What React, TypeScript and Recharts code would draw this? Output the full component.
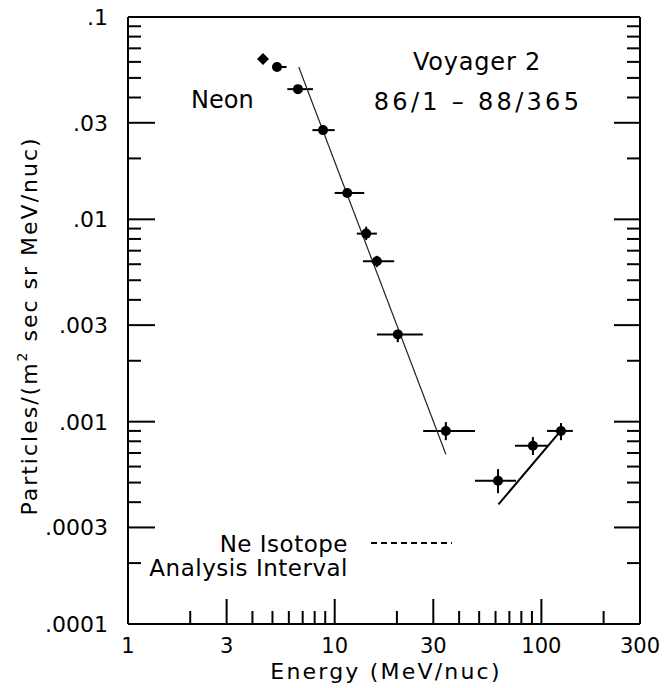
import React from 'react';
import { ComposedChart, XAxis, YAxis, Scatter, ErrorBar } from 'recharts';

// Neon spectrum, Voyager 2, 86/1 - 88/365
const energy = [4.5, 5.26, 6.64, 8.78, 11.5, 14.2, 16.0, 20.2, 34.5, 61.7, 91.0, 124.4];
const energyLow = [4.5, 5.0, 5.9, 7.8, 10.0, 12.8, 13.7, 16.0, 26.8, 47.7, 74.5, 106.4];
const energyHigh = [4.5, 5.85, 7.85, 10.0, 13.9, 16.0, 19.4, 26.7, 47.7, 75.4, 107.6, 142];
const flux = [0.062, 0.0566, 0.044, 0.0276, 0.0135, 0.0085, 0.0062, 0.0027, 0.0009, 0.00051, 0.00076, 0.0009];
const fluxLow = [0.062, 0.0566, 0.044, 0.0276, 0.0135, 0.0079, 0.0058, 0.00247, 0.00081, 0.000443, 0.000684, 0.00081];
const fluxHigh = [0.062, 0.0566, 0.044, 0.0276, 0.0135, 0.0092, 0.0066, 0.00284, 0.000995, 0.000583, 0.000839, 0.000985];

// fitted power laws
const steepFitEnergy = [6.7, 34.5];
const steepFitFlux = [0.0566, 0.00069];
const risingFitEnergy = [62, 124];
const risingFitFlux = [0.00039, 0.0009];

// axis ticks
const xMantissas = [1, 2, 3, 4, 5, 6, 7, 8, 9];
const xDecades = [1, 10, 100];
const xMajor = [1, 3, 10, 30, 100, 300];
const xLabels = ['1', '3', '10', '30', '100', '300'];
const yDecades = [0.0001, 0.001, 0.01];
const yMajor = [0.0001, 0.0003, 0.001, 0.003, 0.01, 0.03, 0.1];
const yLabels = ['.0001', '.0003', '.001', '.003', '.01', '.03', '.1'];

const xTicks = [...xDecades.flatMap(d => xMantissas.map(m => m * d)).filter(v => v < 299), 300];
const yTicks = [...yDecades.flatMap(d => xMantissas.map(m => m * d)), 0.1];

const points = energy.map((e, i) => ({
  energy: e,
  flux: flux[i],
  xErr: [e - energyLow[i], energyHigh[i] - e],
  yErr: [flux[i] - fluxLow[i], fluxHigh[i] - flux[i]],
}));
const diamondPts = points.slice(0, 1);
const circlePts = points.slice(1);
const steepFit = steepFitEnergy.map((e, i) => ({ energy: e, flux: steepFitFlux[i] }));
const risingFit = risingFitEnergy.map((e, i) => ({ energy: e, flux: risingFitFlux[i] }));

const FONT = '"DejaVu Sans", sans-serif';

const indexOf = (list: number[], v: number) =>
  list.findIndex(t => Math.abs(Math.log10(t) - Math.log10(v)) < 1e-6);

const BottomTick = (props: any) => {
  const { x, y, payload } = props;
  const i = indexOf(xMajor, payload.value);
  return (
    <g>
      <line x1={x} y1={y} x2={x} y2={y - (i >= 0 ? 25 : 13)} stroke="#000" strokeWidth={2} />
      {i >= 0 && (
        <text x={x} y={y + 29} textAnchor="middle" fontSize={21} fontFamily={FONT} fill="#000">
          {xLabels[i]}
        </text>
      )}
    </g>
  );
};

const TopTick = (props: any) => {
  const { x, y, payload } = props;
  const i = indexOf(xMajor, payload.value);
  return <line x1={x} y1={y} x2={x} y2={y + (i >= 0 ? 25 : 13)} stroke="#000" strokeWidth={2} />;
};

const LeftTick = (props: any) => {
  const { x, y, payload } = props;
  const i = indexOf(yMajor, payload.value);
  return (
    <g>
      <line x1={x} y1={y} x2={x + (i >= 0 ? 27 : 13)} y2={y} stroke="#000" strokeWidth={2} />
      {i >= 0 && (
        <text x={x - 20} y={y + 8} textAnchor="end" fontSize={22} fontFamily={FONT} fill="#000">
          {yLabels[i]}
        </text>
      )}
    </g>
  );
};

const RightTick = (props: any) => {
  const { x, y, payload } = props;
  const i = indexOf(yMajor, payload.value);
  return <line x1={x} y1={y} x2={x - (i >= 0 ? 26 : 13)} y2={y} stroke="#000" strokeWidth={2} />;
};

const Dot = (p: any) => <circle cx={p.cx} cy={p.cy} r={5} fill="#000" />;
const Diamond = (p: any) => (
  <polygon
    points={`${p.cx},${p.cy - 6} ${p.cx + 6},${p.cy} ${p.cx},${p.cy + 6} ${p.cx - 6},${p.cy}`}
    fill="#000"
  />
);
const NoShape = () => <g />;

export default function App() {
  const axisLine = { stroke: '#000', strokeWidth: 2 };
  return (
    <div style={{ position: 'absolute', left: 0, top: 0, width: 668, height: 688, background: '#fff' }}>
      <ComposedChart width={668} height={688} margin={{ top: 16, right: 27, bottom: 63, left: 127 }}>
        <XAxis
          xAxisId="b"
          dataKey="energy"
          type="number"
          scale="log"
          domain={[1, 300]}
          allowDataOverflow
          ticks={xTicks}
          interval={0}
          height={1}
          tickSize={0}
          tickMargin={0}
          axisLine={axisLine}
          tick={<BottomTick />}
        />
        <XAxis
          xAxisId="t"
          orientation="top"
          type="number"
          scale="log"
          domain={[1, 300]}
          allowDataOverflow
          ticks={xTicks}
          interval={0}
          height={1}
          tickSize={0}
          tickMargin={0}
          axisLine={axisLine}
          tick={<TopTick />}
        />
        <YAxis
          yAxisId="l"
          dataKey="flux"
          type="number"
          scale="log"
          domain={[0.0001, 0.1]}
          allowDataOverflow
          ticks={yTicks}
          interval={0}
          width={1}
          tickSize={0}
          tickMargin={0}
          axisLine={axisLine}
          tick={<LeftTick />}
        />
        <YAxis
          yAxisId="r"
          orientation="right"
          type="number"
          scale="log"
          domain={[0.0001, 0.1]}
          allowDataOverflow
          ticks={yTicks}
          interval={0}
          width={1}
          tickSize={0}
          tickMargin={0}
          axisLine={axisLine}
          tick={<RightTick />}
        />

        <Scatter
          xAxisId="b"
          yAxisId="l"
          data={steepFit}
          line={{ stroke: '#222', strokeWidth: 1.2 }}
          shape={<NoShape />}
          isAnimationActive={false}
        />
        <Scatter
          xAxisId="b"
          yAxisId="l"
          data={risingFit}
          line={{ stroke: '#000', strokeWidth: 2 }}
          shape={<NoShape />}
          isAnimationActive={false}
        />
        <Scatter xAxisId="b" yAxisId="l" data={circlePts} shape={<Dot />} isAnimationActive={false}>
          <ErrorBar dataKey="xErr" direction="x" width={0} stroke="#000" strokeWidth={2} isAnimationActive={false} />
          <ErrorBar dataKey="yErr" direction="y" width={0} stroke="#000" strokeWidth={2} isAnimationActive={false} />
        </Scatter>
        <Scatter xAxisId="b" yAxisId="l" data={diamondPts} shape={<Diamond />} isAnimationActive={false} />

        {/* annotations */}
        <text x={191} y={108} fontSize={24} fontFamily={FONT} fill="#000">Neon</text>
        <text x={477} y={70} textAnchor="middle" fontSize={24} letterSpacing={0.8} fontFamily={FONT} fill="#000">
          Voyager 2
        </text>
        <text x={478} y={110} textAnchor="middle" fontSize={24} letterSpacing={3.3} fontFamily={FONT} fill="#000">
          86/1 – 88/365
        </text>
        <text x={348} y={552} textAnchor="end" fontSize={23} letterSpacing={0.5} fontFamily={FONT} fill="#000">
          Ne Isotope
        </text>
        <text x={348} y={576} textAnchor="end" fontSize={23} letterSpacing={0.5} fontFamily={FONT} fill="#000">
          Analysis Interval
        </text>
        <line x1={371} y1={543} x2={452} y2={543} stroke="#000" strokeWidth={2} strokeDasharray="6 4" />

        {/* axis titles */}
        <text x={386} y={679} textAnchor="middle" fontSize={22} letterSpacing={2.2} fontFamily={FONT} fill="#000">
          Energy (MeV/nuc)
        </text>
        <text
          x={0}
          y={0}
          transform="translate(37 326) rotate(-90)"
          textAnchor="middle"
          fontSize={22}
          letterSpacing={2}
          fontFamily={FONT}
          fill="#000"
        >
          Particles/(m
          <tspan dy={-10} fontSize={14}>2</tspan>
          <tspan dy={10}> sec sr MeV/nuc)</tspan>
        </text>
      </ComposedChart>
    </div>
  );
}
